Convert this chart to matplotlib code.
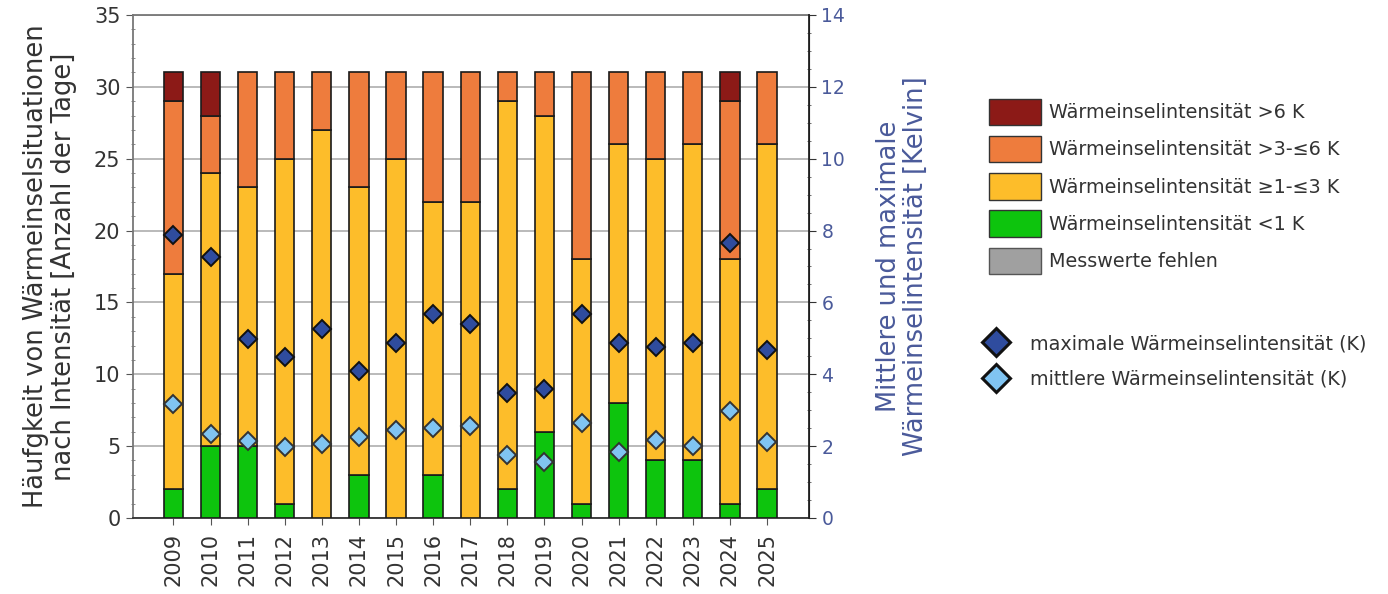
import numpy as np
import matplotlib.pyplot as plt
from matplotlib.patches import Patch
from matplotlib.lines import Line2D
from matplotlib.ticker import MultipleLocator

years = ['2009', '2010', '2011', '2012', '2013', '2014', '2015', '2016', '2017',
         '2018', '2019', '2020', '2021', '2022', '2023', '2024', '2025']

# Tage je Intensitaetsklasse (Juli, 31 Tage)
days_lt1 = [2, 5, 5, 1, 0, 3, 0, 3, 0, 2, 6, 1, 8, 4, 4, 1, 2]
days_1to3 = [15, 19, 18, 24, 27, 20, 25, 19, 22, 27, 22, 17, 18, 21, 22, 17, 24]
days_3to6 = [12, 4, 8, 6, 4, 8, 6, 9, 9, 2, 3, 13, 5, 6, 5, 11, 5]
days_gt6 = [2, 3, 0, 0, 0, 0, 0, 0, 0, 0, 0, 0, 0, 0, 0, 2, 0]
days_missing = [0] * 17

# Intensitaet in Kelvin
max_K = [7.88, 7.27, 4.97, 4.47, 5.27, 4.08, 4.88, 5.68, 5.39,
         3.47, 3.58, 5.68, 4.87, 4.76, 4.87, 7.66, 4.68]
mean_K = [3.17, 2.33, 2.15, 1.98, 2.07, 2.26, 2.45, 2.51, 2.57,
          1.76, 1.55, 2.64, 1.85, 2.18, 2.0, 2.97, 2.12]

c_gt6 = '#8c1a17'
c_3to6 = '#ee7c3d'
c_1to3 = '#fdbd2a'
c_lt1 = '#0dc40d'
c_miss = '#a0a0a0'
c_max = '#2f4c9e'
c_mean = '#80c4f2'
c_blue = '#4a5a9a'
c_text = '#333333'

plt.rcParams['font.family'] = 'DejaVu Sans'

fig = plt.figure(figsize=(13.88, 5.94), dpi=100)
ax = fig.add_axes([0.0958, 0.128, 0.487, 0.8468])

x = np.arange(len(years))
w = 0.52
edge = dict(edgecolor='#1a1a1a', linewidth=1.2, zorder=3)

bottom = np.zeros(len(years))
for vals, col in [(days_lt1, c_lt1), (days_1to3, c_1to3),
                  (days_3to6, c_3to6), (days_gt6, c_gt6), (days_missing, c_miss)]:
    vals = np.array(vals, dtype=float)
    mask = vals > 0
    ax.bar(x[mask], vals[mask], w, bottom=bottom[mask], color=col, **edge)
    bottom += vals

ax.set_xlim(-1.09, 17.13)
ax.set_ylim(0, 35)
ax.yaxis.set_major_locator(MultipleLocator(5))
ax.yaxis.set_minor_locator(MultipleLocator(1))
ax.grid(axis='y', color='#b4b4b4', linewidth=1.3, zorder=0)
ax.set_axisbelow(True)
ax.set_xticks(x)
ax.set_xticklabels(years, rotation=90, fontsize=15, color=c_text)
ax.tick_params(axis='y', labelsize=15, labelcolor=c_text, length=5, color='#555555', pad=4)
ax.tick_params(axis='y', which='minor', direction='inout', length=3, color='#777777')
ax.tick_params(axis='x', length=5, color='#555555', pad=6)
ax.set_ylabel('Häufgkeit von Wärmeinselsituationen\nnach Intensität [Anzahl der Tage]',
              fontsize=18.5, color=c_text, labelpad=12, linespacing=1.12)
for s in ['top', 'left']:
    ax.spines[s].set_color('#777777')
    ax.spines[s].set_linewidth(1.3)
ax.spines['bottom'].set_color('#333333')
ax.spines['bottom'].set_linewidth(1.3)

ax2 = ax.twinx()
ax2.set_ylim(0, 14)
ax2.yaxis.set_major_locator(MultipleLocator(2))
ax2.yaxis.set_minor_locator(MultipleLocator(0.5))
ax2.plot(x, max_K, linestyle='none', marker='D', markersize=9,
         markerfacecolor=c_max, markeredgecolor='#111111', markeredgewidth=1.4, zorder=5)
ax2.plot(x, mean_K, linestyle='none', marker='D', markersize=9,
         markerfacecolor=c_mean, markeredgecolor='#333333', markeredgewidth=1.4, zorder=5)
ax2.tick_params(axis='y', labelsize=13.5, labelcolor=c_blue, length=5, color='#333333', pad=4)
ax2.tick_params(axis='y', which='minor', direction='inout', length=3, color='#555555')
ax2.set_ylabel('Mittlere und maximale\nWärmeinselintensität [Kelvin]',
               fontsize=18.5, color=c_blue, labelpad=22, linespacing=1.05)
ax2.spines['right'].set_color('#222222')
ax2.spines['right'].set_linewidth(1.3)
for s in ['top', 'left', 'bottom']:
    ax2.spines[s].set_visible(False)

bar_handles = [Patch(facecolor=c_gt6, edgecolor='#333333', linewidth=1.0),
               Patch(facecolor=c_3to6, edgecolor='#333333', linewidth=1.0),
               Patch(facecolor=c_1to3, edgecolor='#333333', linewidth=1.0),
               Patch(facecolor=c_lt1, edgecolor='#333333', linewidth=1.0),
               Patch(facecolor=c_miss, edgecolor='#555555', linewidth=1.0)]
bar_labels = ['Wärmeinselintensität >6 K', 'Wärmeinselintensität >3-≤6 K',
              'Wärmeinselintensität ≥1-≤3 K', 'Wärmeinselintensität <1 K',
              'Messwerte fehlen']
leg1 = fig.legend(bar_handles, bar_labels, loc='upper left',
                  bbox_to_anchor=(0.7125, 0.834), frameon=False, fontsize=13.8,
                  handlelength=2.7, handleheight=1.75, labelspacing=0.56,
                  handletextpad=0.45, borderpad=0, borderaxespad=0)
for t in leg1.get_texts():
    t.set_color(c_text)

dot_handles = [Line2D([], [], linestyle='none', marker='D', markersize=14,
                      markerfacecolor=c_max, markeredgecolor='#111111', markeredgewidth=2.2),
               Line2D([], [], linestyle='none', marker='D', markersize=14,
                      markerfacecolor=c_mean, markeredgecolor='#111111', markeredgewidth=2.2)]
leg2 = fig.legend(dot_handles, ['maximale Wärmeinselintensität (K)',
                                'mittlere Wärmeinselintensität (K)'],
                  loc='upper left', bbox_to_anchor=(0.7065, 0.4375), frameon=False,
                  fontsize=13.8, handlelength=1.6, labelspacing=0.88,
                  handletextpad=1.0, borderpad=0, borderaxespad=0)
for t in leg2.get_texts():
    t.set_color(c_text)

fig.savefig('out.png', dpi=100)
